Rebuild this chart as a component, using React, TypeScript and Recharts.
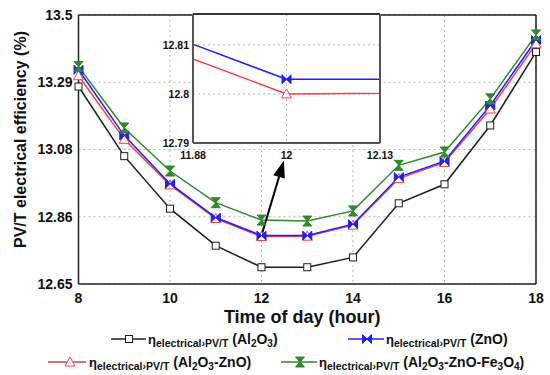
import React from 'react';
import { LineChart, Line, XAxis, YAxis, CartesianGrid, ReferenceLine, Label } from 'recharts';

// ---------- data ----------
const hours = [8, 9, 10, 11, 12, 13, 14, 15, 16, 17, 18];
const al2o3 = [13.274, 13.054, 12.888, 12.771, 12.703, 12.703, 12.734, 12.905, 12.965, 13.151, 13.383];
const zno = [13.327, 13.119, 12.967, 12.86, 12.803, 12.803, 12.839, 12.988, 13.038, 13.214, 13.421];
const al2o3Zno = [13.308, 13.107, 12.963, 12.857, 12.8, 12.801, 12.836, 12.983, 13.034, 13.203, 13.409];
const al2o3ZnoFe3o4 = [13.337, 13.143, 13.007, 12.907, 12.852, 12.849, 12.881, 13.025, 13.067, 13.235, 13.437];

const seriesNames = ['Al_2O_3', 'ZnO', 'Al_2O_3-ZnO', 'Al_2O_3-ZnO-Fe_3O_4'];

const xTicks = [8, 10, 12, 14, 16, 18];
const xMinorTicks = [8, 8.4, 8.8, 9.2, 9.6, 10, 10.4, 10.8, 11.2, 11.6, 12, 12.4, 12.8, 13.2, 13.6, 14, 14.4, 14.8, 15.2, 15.6, 16, 16.4, 16.8, 17.2, 17.6, 18];
const yTicks = [12.65, 12.8625, 13.075, 13.2875, 13.5];
const yTickLabels = ['12.65', '12.86', '13.08', '13.29', '13.5'];
const yMinorTicks = [12.65, 12.75625, 12.8625, 12.96875, 13.075, 13.18125, 13.2875, 13.39375, 13.5];

const insetXTicks = [11.875, 12, 12.125];
const insetXLabels = ['11.88', '12', '12.13'];
const insetYTicks = [12.79, 12.8, 12.81];
const insetYLabels = ['12.79', '12.8', '12.81'];

const arrowFrom = { x: 12, y: 12.803 };
const arrowTo = { x: 12.49, y: 13.04 };

const data = hours.map((h, i) => ({
  hour: h,
  al2o3: al2o3[i],
  zno: zno[i],
  al2o3Zno: al2o3Zno[i],
  fe: al2o3ZnoFe3o4[i],
}));

// ---------- styles ----------
const FONT = '"Liberation Sans", Arial, sans-serif';
const BLACK = '#1e1e1e';
const BLUE = '#1f1fff';
const RED = '#ff3b4a';
const GREEN = '#2b8a2b';

// ---------- markers ----------
const SquareDot = ({ cx, cy }: any) => (
  <rect x={cx - 3.5} y={cy - 3.5} width={7} height={7} fill="#fff" stroke={BLACK} strokeWidth={1} />
);
const BowtieDot = ({ cx, cy }: any) => (
  <path
    d={`M${cx - 4.5},${cy - 4.5}L${cx},${cy}L${cx - 4.5},${cy + 4.5}Z M${cx + 4.5},${cy - 4.5}L${cx},${cy}L${cx + 4.5},${cy + 4.5}Z`}
    fill={BLUE}
    stroke={BLUE}
    strokeWidth={1}
  />
);
const TriangleDot = ({ cx, cy }: any) => (
  <path
    d={`M${cx},${cy - 5}L${cx + 5},${cy + 4}L${cx - 5},${cy + 4}Z`}
    fill="#fff"
    stroke={RED}
    strokeWidth={1}
  />
);
const HourglassDot = ({ cx, cy }: any) => (
  <path
    d={`M${cx - 4.5},${cy - 5}L${cx + 4.5},${cy - 5}L${cx},${cy}Z M${cx - 4.5},${cy + 5}L${cx + 4.5},${cy + 5}L${cx},${cy}Z`}
    fill={GREEN}
    stroke={GREEN}
    strokeWidth={1}
  />
);

const mk = (C: any) => (p: any) => <C key={`d-${p.index}`} cx={p.cx} cy={p.cy} />;

// ---------- labels ----------
const YTitle = (props: any) => {
  const vb = props.viewBox;
  const x = vb.x + 20;
  const y = vb.y + vb.height / 2 - 10;
  return (
    <text
      x={x}
      y={y}
      transform={`rotate(-90, ${x}, ${y})`}
      textAnchor="middle"
      dominantBaseline="central"
      fontSize={16}
      fontWeight={700}
      fill="#111"
      fontFamily={FONT}
    >
      PV/T electrical efficiency (%)
    </text>
  );
};

const XTitle = (props: any) => {
  const vb = props.viewBox;
  return (
    <text
      x={vb.x + vb.width / 2 - 5}
      y={vb.y + 33}
      textAnchor="middle"
      dominantBaseline="central"
      fontSize={18}
      fontWeight={700}
      fill="#111"
      fontFamily={FONT}
    >
      Time of day (hour)
    </text>
  );
};

const ArrowShape = (p: any) => {
  const { x1, y1, x2, y2 } = p;
  const ang = Math.atan2(y2 - y1, x2 - x1);
  const len = 17;
  const half = 6;
  const bx = x2 - len * Math.cos(ang);
  const by = y2 - len * Math.sin(ang);
  const px = -Math.sin(ang) * half;
  const py = Math.cos(ang) * half;
  return (
    <g>
      <line x1={x1} y1={y1} x2={bx} y2={by} stroke="#000" strokeWidth={2} />
      <polygon points={`${x2},${y2} ${bx + px},${by + py} ${bx - px},${by - py}`} fill="#000" />
    </g>
  );
};

// ---------- legend ----------
const Formula = ({ x, y, formula }: { x: number; y: number; formula: string }) => {
  const parts = formula.split(/(_\d)/).filter((s) => s.length > 0);
  const spans: any[] = [];
  let sub = false;
  spans.push(
    <tspan key="eta" fontSize={13}>
      η
    </tspan>
  );
  spans.push(
    <tspan key="sub" fontSize={10.5} dy={3}>
      electrical›PV/T
    </tspan>
  );
  spans.push(
    <tspan key="open" fontSize={14} dy={-3}>
      {' ('}
    </tspan>
  );
  sub = false;
  parts.forEach((pt, i) => {
    if (pt.startsWith('_')) {
      spans.push(
        <tspan key={i} fontSize={10} dy={sub ? 0 : 3}>
          {pt.slice(1)}
        </tspan>
      );
      sub = true;
    } else {
      spans.push(
        <tspan key={i} fontSize={14} dy={sub ? -3 : 0}>
          {pt}
        </tspan>
      );
      sub = false;
    }
  });
  spans.push(
    <tspan key="close" fontSize={14} dy={sub ? -3 : 0}>
      )
    </tspan>
  );
  return (
    <text x={x} y={y} fontWeight={700} fill="#111" fontFamily={FONT}>
      {spans}
    </text>
  );
};

const legendItems = [
  { color: BLACK, Dot: SquareDot, lx: 111, rx: 146, mx: 129, tx: 148, y: 339, name: seriesNames[0] },
  { color: BLUE, Dot: BowtieDot, lx: 348, rx: 384, mx: 367, tx: 386, y: 339, name: seriesNames[1] },
  { color: '#c8463f', Dot: TriangleDot, lx: 48, rx: 86, mx: 70, tx: 89, y: 362, name: seriesNames[2] },
  { color: GREEN, Dot: HourglassDot, lx: 281, rx: 317, mx: 300, tx: 319, y: 362, name: seriesNames[3] },
];

const LegendBox = () => (
  <svg width={550} height={375} style={{ position: 'absolute', left: 0, top: 0, pointerEvents: 'none' }}>
    {legendItems.map((it, i) => (
      <g key={i}>
        <line x1={it.lx} y1={it.y} x2={it.rx} y2={it.y} stroke={it.color} strokeWidth={1.5} />
        <it.Dot cx={it.mx} cy={it.y} />
        <Formula x={it.tx} y={it.y + 5} formula={it.name} />
      </g>
    ))}
  </svg>
);

// ---------- charts ----------
const tickStyle = { fill: '#111', fontSize: 14, fontWeight: 700, fontFamily: FONT };
const axisStroke = { stroke: '#222', strokeWidth: 1.5 };

const MainChart = () => (
  <LineChart width={550} height={375} data={data} margin={{ top: 15, right: 14, bottom: 61, left: 0 }}>
    <CartesianGrid stroke="#b5b5b5" strokeDasharray="2 3" />
    <XAxis
      dataKey="hour"
      type="number"
      domain={[8, 18]}
      ticks={xTicks}
      interval={0}
      tickLine={false}
      axisLine={axisStroke}
      tick={tickStyle}
      tickSize={4}
      tickMargin={5}
      height={30}
      label={<Label content={XTitle} />}
    />
    <YAxis
      type="number"
      domain={[12.65, 13.5]}
      ticks={yTicks}
      interval={0}
      tickFormatter={(v: number) => yTickLabels[yTicks.indexOf(v)] ?? ''}
      tickLine={false}
      axisLine={axisStroke}
      tick={tickStyle}
      tickSize={2}
      tickMargin={4}
      width={78.5}
      label={<Label content={YTitle} />}
    />
    <XAxis xAxisId="bm" orientation="bottom" mirror type="number" domain={[8, 18]} ticks={xMinorTicks} interval={0} tick={false} axisLine={false} tickLine={{ stroke: '#333' }} tickSize={4} height={30} />
    <XAxis xAxisId="tm" orientation="top" mirror type="number" domain={[8, 18]} ticks={xMinorTicks} interval={0} tick={false} axisLine={axisStroke} tickLine={{ stroke: '#333' }} tickSize={4} height={30} />
    <YAxis yAxisId="lm" orientation="left" mirror type="number" domain={[12.65, 13.5]} ticks={yMinorTicks} interval={0} tick={false} axisLine={false} tickLine={{ stroke: '#333' }} tickSize={4} width={40} />
    <YAxis yAxisId="rm" orientation="right" mirror type="number" domain={[12.65, 13.5]} ticks={yMinorTicks} interval={0} tick={false} axisLine={axisStroke} tickLine={{ stroke: '#333' }} tickSize={4} width={40} />
    <Line dataKey="al2o3" stroke={BLACK} strokeWidth={1.5} dot={mk(SquareDot)} isAnimationActive={false} />
    <Line dataKey="al2o3Zno" stroke={RED} strokeWidth={1.5} dot={mk(TriangleDot)} isAnimationActive={false} />
    <Line dataKey="zno" stroke={BLUE} strokeWidth={1.5} dot={mk(BowtieDot)} isAnimationActive={false} />
    <Line dataKey="fe" stroke={GREEN} strokeWidth={1.5} dot={mk(HourglassDot)} isAnimationActive={false} />
    <ReferenceLine segment={[arrowFrom, arrowTo]} ifOverflow="visible" shape={ArrowShape} />
  </LineChart>
);

const insetTick = { fill: '#111', fontSize: 10.5, fontWeight: 700, fontFamily: FONT };
const insetAxis = { stroke: '#555', strokeWidth: 2 };

const InsetChart = () => (
  <LineChart width={280} height={170} data={data} margin={{ top: 14, right: 40, bottom: 7, left: 8 }}>
    <CartesianGrid stroke="#b5b5b5" strokeDasharray="2 3" fill="#fff" />
    <XAxis
      dataKey="hour"
      type="number"
      domain={[11.875, 12.125]}
      allowDataOverflow
      ticks={insetXTicks}
      interval={0}
      tickFormatter={(v: number) => insetXLabels[insetXTicks.indexOf(v)] ?? ''}
      tickLine={false}
      axisLine={insetAxis}
      tick={insetTick}
      tickSize={2}
      tickMargin={7}
      height={20}
    />
    <YAxis
      type="number"
      domain={[12.79, 12.8163]}
      allowDataOverflow
      ticks={insetYTicks}
      interval={0}
      tickFormatter={(v: number) => insetYLabels[insetYTicks.indexOf(v)] ?? ''}
      tickLine={false}
      axisLine={insetAxis}
      tick={insetTick}
      tickSize={1}
      tickMargin={3}
      width={45}
    />
    <XAxis xAxisId="it" orientation="top" mirror type="number" domain={[11.875, 12.125]} tick={false} tickLine={false} axisLine={{ stroke: '#333', strokeWidth: 2 }} height={20} />
    <YAxis yAxisId="ir" orientation="right" mirror type="number" domain={[12.79, 12.8163]} tick={false} tickLine={false} axisLine={insetAxis} width={20} />
    <Line dataKey="al2o3Zno" stroke={RED} strokeWidth={1.5} dot={mk(TriangleDot)} isAnimationActive={false} />
    <Line dataKey="zno" stroke={BLUE} strokeWidth={1.5} dot={mk(BowtieDot)} isAnimationActive={false} />
  </LineChart>
);

export default function App() {
  return (
    <div style={{ position: 'absolute', left: 0, top: 0, width: 550, height: 375, background: '#fff', fontFamily: FONT }}>
      <div style={{ position: 'absolute', left: 0, top: 0 }}>
        <MainChart />
      </div>
      <div style={{ position: 'absolute', left: 140, top: 0 }}>
        <InsetChart />
      </div>
      <LegendBox />
    </div>
  );
}
